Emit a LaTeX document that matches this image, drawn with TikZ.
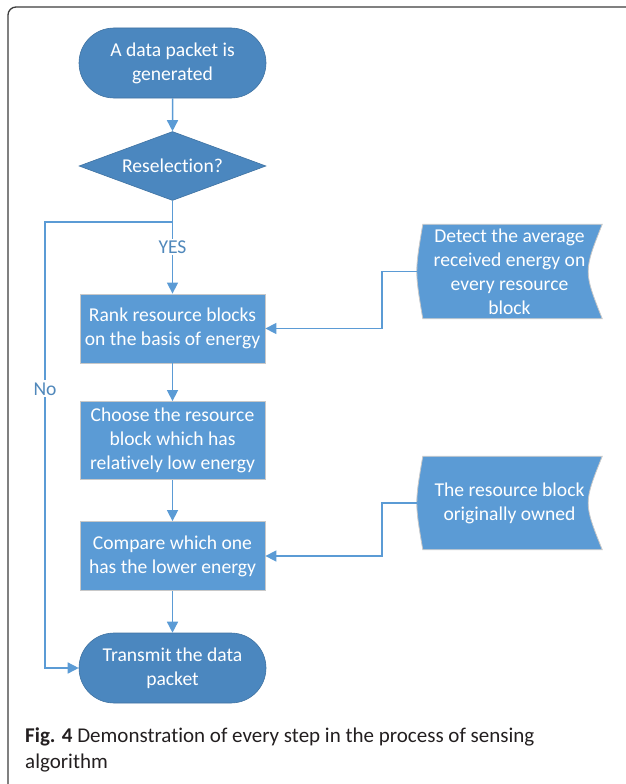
\documentclass[tikz,border=0pt]{standalone}
\usepackage{fontspec}
\setmainfont{Carlito}[Ligatures=NoCommon]
\usetikzlibrary{arrows.meta,shapes.geometric,shapes.misc,backgrounds}
\definecolor{flowdark}{HTML}{4B87BF}
\definecolor{flowlight}{HTML}{5B9BD5}
\definecolor{flowline}{HTML}{5B9BD5}
\definecolor{flowedge}{HTML}{C8C8C8}
\definecolor{framegray}{HTML}{3C3C3C}
\definecolor{captext}{HTML}{231F20}

\begin{document}
\begin{tikzpicture}[
  x=1pt, y=-1pt,
  >={Triangle[length=11pt, width=11pt]},
  flowtext/.style={font=\fontsize{19.6}{24}\selectfont, text=white, align=center},
  term/.style={flowtext, rounded rectangle, fill=flowdark,
    draw=flowdark!85!black, line width=0.6pt,
    minimum width=187pt, minimum height=70pt, inner sep=0pt},
  decide/.style={flowtext, diamond, fill=flowdark, draw=flowdark!85!black,
    line width=0.6pt, minimum width=187pt, minimum height=69pt,
    aspect=2.7, inner sep=0pt},
  stepbox/.style={flowtext, rectangle, fill=flowlight, draw=flowedge,
    line width=0.8pt, minimum width=185pt, minimum height=69pt, inner sep=0pt},
  docbox/.style={flowtext, minimum width=185pt, minimum height=94pt, inner sep=0pt},
  docshape/.style={fill=flowlight, draw=flowedge, line width=0.8pt},
  flow/.style={draw=flowline, line width=1.5pt},
  lab/.style={font=\fontsize{19.6}{24}\selectfont, text=flowline!88!black,
    fill=white, inner sep=2pt},
  captiontext/.style={font=\fontsize{21}{26}\selectfont, text=captext,
    align=left, inner sep=0pt}
]
\useasboundingbox (0,0) rectangle (626,784);
% the frame round the figure
\draw[framegray, line width=1.3pt, rounded corners=8pt] (8,790) -- (8,7) -- (632,7);
% the main column
\node[term] (start) at (172.5,63) {A data packet is\\ generated};
\node[decide] (resel) at (172.5,166) {Reselection?};
\coordinate (split) at (172.5,222);
\coordinate (nocorner) at (45,222);
\node[stepbox] (rank) at (172.5,328.5) {Rank resource blocks\\ on the basis of energy};
\node[stepbox, minimum height=78pt] (choose) at (172.5,440.5)
  {Choose the resource\\ block which has\\ relatively low energy};
\node[stepbox] (compare) at (172.5,556) {Compare which one\\ has the lower energy};
\node[term] (send) at (172.5,668) {Transmit the data\\ packet};
% the two inputs on the right
\node[docbox] (detect) at (509.5,271.5) {Detect the average\\ received energy on\\ every resource\\ block};
\node[docbox, minimum height=93pt] (owned) at (509.5,503) {The resource block\\ originally owned};
\begin{scope}[on background layer]
\foreach \d in {detect, owned} {
  \draw[docshape] ([xshift=6pt]\d.north west) -- (\d.north east)
    .. controls ([xshift=-18.7pt]\d.east) .. (\d.south east)
    -- ([xshift=6pt]\d.south west)
    .. controls ([xshift=-2pt]\d.west) .. ([xshift=6pt]\d.north west) -- cycle;
}
\end{scope}
% connectors
\draw[flow, ->] (start) -- (resel);
\draw[flow] (resel) -- (split);
\draw[flow, ->] (split) -- node[lab, pos=0.35] (yes) {YES} (rank);
\draw[flow, ->] (split) -- (nocorner) |- node[lab, pos=0.187] (no) {No} (send.west);
\draw[flow, ->] (rank) -- (choose);
\draw[flow, ->] (choose) -- (compare);
\draw[flow, ->] (compare) -- (send);
\draw[flow, ->] (detect.west) -- ++(-35,0) |- (rank.east);
\draw[flow, ->] (owned.west) -- ++(-35,0) |- (compare.east);
% caption
\node[captiontext, anchor=north west] (caption) at (25,728)
  {\textbf{Fig. 4} Demonstration of every step in the process of sensing\\ algorithm};
\end{tikzpicture}
\end{document}
